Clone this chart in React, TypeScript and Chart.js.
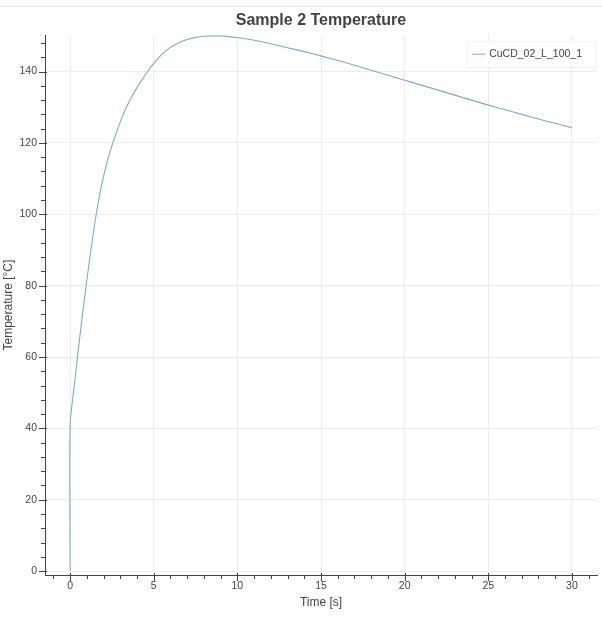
import { useEffect, useRef } from 'react';
import Chart from 'chart.js/auto';

// values
const timeS = [
  0, 0, 0.25, 0.5, 0.75, 1, 1.25, 1.5, 1.75, 2, 2.25, 2.5, 2.75, 3, 3.25, 3.5, 3.75, 4, 4.25, 4.5,
  4.75, 5, 5.5, 6, 6.5, 7, 7.5, 8, 8.5, 9, 9.5, 10, 11, 12, 13, 14, 15, 16, 17, 18, 19, 20, 21, 22,
  23, 24, 25, 26, 27, 28, 29, 30,
];
const tempC = [
  0, 41, 52, 62.5, 72.3, 81.5, 90.2, 98.2, 105, 110.6, 115.3, 119.2, 122.7, 125.9, 128.8, 131.3,
  133.5, 135.5, 137.4, 139.1, 140.8, 142.3, 144.9, 146.8, 148.1, 149.0, 149.6, 149.9, 150, 150,
  149.8, 149.5, 148.8, 147.8, 146.7, 145.6, 144.4, 143.1, 141.8, 140.4, 139.0, 137.6, 136.2, 134.8,
  133.4, 132.0, 130.6, 129.3, 128.0, 126.7, 125.5, 124.3,
];
const seriesName = 'CuCD_02_L_100_1';
const xMajorTicks = [0, 5, 10, 15, 20, 25, 30];
const yMajorTicks = [0, 20, 40, 60, 80, 100, 120, 140];

const FONT = '"Liberation Sans", Arial, Helvetica, sans-serif';
const TEXT = '#444444';
const AXIS = '#444444';
const GRID = '#ececec';
const LINE = 'rgb(120, 172, 210)';

// 5 minor intervals between majors, spread over the whole axis range
const withMinors = (majors: number[], min: number, max: number) => {
  const step = (majors[1] - majors[0]) / 5;
  const out: number[] = [];
  const start = Math.ceil(min / step);
  for (let i = start; i * step <= max; i++) out.push(+(i * step).toFixed(6));
  return out;
};

const tickMarks = {
  id: 'tickMarks',
  afterDraw(chart: any) {
    const { ctx, chartArea } = chart;
    const xs = chart.scales.x;
    const ys = chart.scales.y;
    ctx.save();
    ctx.strokeStyle = AXIS;
    ctx.lineWidth = 1;
    ctx.beginPath();
    xs.ticks.forEach((t: any) => {
      const px = Math.round(xs.getPixelForValue(t.value)) + 0.5;
      const major = xMajorTicks.includes(t.value);
      ctx.moveTo(px, chartArea.bottom - (major ? 2 : 0));
      ctx.lineTo(px, chartArea.bottom + (major ? 6 : 4));
    });
    ys.ticks.forEach((t: any) => {
      const py = Math.round(ys.getPixelForValue(t.value)) + 0.5;
      const major = yMajorTicks.includes(t.value);
      ctx.moveTo(chartArea.left + (major ? 2 : 0), py);
      ctx.lineTo(chartArea.left - (major ? 6 : 4), py);
    });
    ctx.stroke();
    ctx.restore();
  },
};

const boxLegend = {
  id: 'boxLegend',
  afterDatasetsDraw(chart: any) {
    const { ctx, chartArea } = chart;
    const ds = chart.data.datasets[0];
    ctx.save();
    ctx.font = `10.5px ${FONT}`;
    const textW = ctx.measureText(ds.label).width;
    const w = textW + 36;
    const h = 26;
    const x0 = chartArea.right - 2 - w;
    const y0 = chartArea.top + 6;
    ctx.fillStyle = 'rgba(255,255,255,0.95)';
    ctx.fillRect(x0, y0, w, h);
    ctx.strokeStyle = 'rgba(229,229,229,0.5)';
    ctx.strokeRect(x0 + 0.5, y0 + 0.5, w, h);
    const cy = y0 + h / 2;
    ctx.strokeStyle = ds.borderColor;
    ctx.lineWidth = 1;
    ctx.beginPath();
    ctx.moveTo(x0 + 6, cy);
    ctx.lineTo(x0 + 19, cy);
    ctx.stroke();
    ctx.fillStyle = TEXT;
    ctx.textBaseline = 'middle';
    ctx.fillText(ds.label, x0 + 23, cy);
    ctx.restore();
  },
};

const TemperatureChart = () => {
  const chartRef = useRef<HTMLCanvasElement>(null);
  const chartInstance = useRef<Chart>();

  useEffect(() => {
    document.body.style.margin = '0';
    if (chartInstance.current) {
      chartInstance.current.destroy();
    }
    const ctx = chartRef.current?.getContext('2d');
    if (!ctx) return;

    const xMin = -1.5;
    const xMax = 31.5;
    const yMin = -1.1;
    const yMax = 150.2;

    chartInstance.current = new Chart(ctx, {
      type: 'line',
      data: {
        datasets: [
          {
            label: seriesName,
            data: timeS.map((t, i) => ({ x: t, y: tempC[i] })),
            borderColor: LINE,
            borderWidth: 1.1,
            pointRadius: 0,
            tension: 0.2,
            fill: false,
          },
        ],
      },
      options: {
        responsive: true,
        maintainAspectRatio: false,
        animation: false,
        layout: { padding: { left: 0, right: 5, top: 0, bottom: 0 } },
        plugins: {
          legend: { display: false },
          tooltip: { enabled: false },
          title: {
            display: true,
            text: 'Sample 2 Temperature',
            fullSize: false,
            color: TEXT,
            font: { family: FONT, size: 16, weight: 'bold' },
            padding: { top: 11, bottom: 5 },
          },
        },
        scales: {
          x: {
            type: 'linear',
            min: xMin,
            max: xMax,
            afterBuildTicks: (scale: any) => {
              scale.ticks = withMinors(xMajorTicks, xMin, xMax).map((v) => ({ value: v }));
            },
            afterFit: (scale: any) => {
              scale.height = 59;
            },
            ticks: {
              autoSkip: false,
              maxRotation: 0,
              padding: 5,
              color: TEXT,
              font: { family: FONT, size: 10.5 },
              callback: (v: any) => (xMajorTicks.includes(v) ? String(v) : ''),
            },
            grid: {
              drawTicks: false,
              color: (c: any) => (xMajorTicks.includes(c.tick?.value) ? GRID : 'transparent'),
            },
            border: { display: true, color: AXIS, width: 1 },
            title: {
              display: true,
              text: 'Time [s]',
              color: TEXT,
              font: { family: FONT, size: 12 },
              padding: { top: 0, bottom: 24 },
            },
          },
          y: {
            type: 'linear',
            min: yMin,
            max: yMax,
            afterBuildTicks: (scale: any) => {
              scale.ticks = withMinors(yMajorTicks, yMin, yMax).map((v) => ({ value: v }));
            },
            afterFit: (scale: any) => {
              scale.width = 45;
            },
            ticks: {
              autoSkip: false,
              padding: 8,
              color: TEXT,
              font: { family: FONT, size: 10.5 },
              callback: (v: any) => (yMajorTicks.includes(v) ? String(v) : ''),
            },
            grid: {
              drawTicks: false,
              color: (c: any) => (yMajorTicks.includes(c.tick?.value) ? GRID : 'transparent'),
            },
            border: { display: true, color: AXIS, width: 1 },
            title: {
              display: true,
              text: 'Temperature [°C]',
              color: TEXT,
              font: { family: FONT, size: 12 },
              padding: { top: 1, bottom: 0 },
            },
          },
        },
      },
      plugins: [tickMarks, boxLegend],
    });

    return () => {
      if (chartInstance.current) {
        chartInstance.current.destroy();
      }
    };
  }, []);

  return (
    <div style={{ position: 'relative', width: 602, height: 634, background: '#fff' }}>
      <canvas ref={chartRef} />
      <div
        style={{
          position: 'absolute',
          top: 6,
          left: 0,
          width: 602,
          height: 1,
          background: '#e6e6e6',
        }}
      />
    </div>
  );
};

export default function App() {
  return <TemperatureChart />;
}
